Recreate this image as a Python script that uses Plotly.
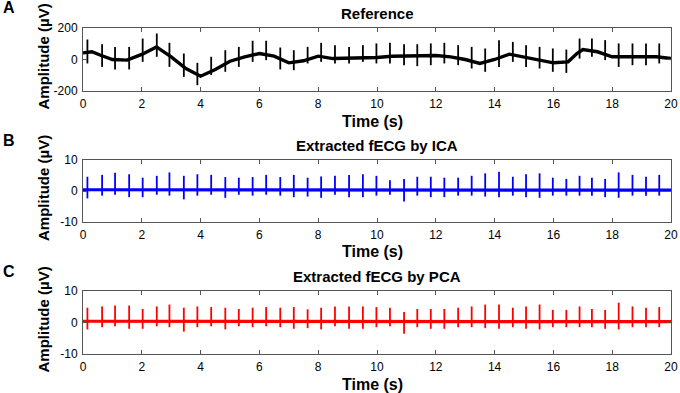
import plotly.graph_objects as go

# ---------------- data ----------------
beat_times = [0.15, 0.65, 1.09, 1.57, 2.03, 2.51, 2.94, 3.43, 3.89, 4.36, 4.84,
              5.30, 5.77, 6.23, 6.71, 7.17, 7.64, 8.10, 8.57, 9.05, 9.52, 9.98,
              10.44, 10.92, 11.37, 11.83, 12.29, 12.76, 13.22, 13.68, 14.15, 14.62,
              15.07, 15.53, 15.98, 16.44, 16.89, 17.31, 17.76, 18.22, 18.69, 19.15, 19.60]

# Panel A (reference) baseline wander
ref_base_t = [0, 0.3, 0.6, 1.0, 1.5, 2.0, 2.5, 3.0, 3.5, 4.0, 4.5, 5.0, 5.5, 6.0, 6.5,
              7.0, 7.5, 8.0, 8.5, 9.0, 9.5, 10, 10.5, 11, 11.5, 12, 12.5, 13, 13.5,
              14, 14.5, 15, 15.5, 16, 16.5, 16.8, 17, 17.5, 18, 18.5, 19, 19.5, 20]
ref_base_v = [42, 49, 27, 0, -4, 32, 80, 17, -57, -106, -63, -11, 17, 38, 21,
              -21, -8, 21, 6, 8, 8, 13, 21, 23, 21, 25, 17, 0, -25,
              0, 34, 17, 0, -21, -15, 38, 63, 49, 17, 17, 21, 17, 6]
# Panel A spike extremes
ref_top = [127, 97, 80, 80, 133, 165, 106, 38, -21, 17, 59, 80, 119, 119, 76, 59, 80,
           106, 91, 80, 91, 102,
           106, 97, 97, 102, 106, 91, 80, 70, 123, 112, 91, 80, 70, 63, 133, 133, 123,
           102, 102, 102, 102]
ref_bottom = [-25, -47, -63, -63, -15, 17, -47, -110, -163, -99, -78, -47, -15, -4, -63,
              -68, -25, -15, -25, -25, -15, -25,
              -25, -36, -42, -36, -25, -36, -57, -78, -47, -15, -47, -57, -78, -85, 6,
              17, -4, -47, -36, -36, -25]

# Panel B (ICA)
ica_base_t = [0, 5, 10, 15, 20]
ica_base_v = [0.4, 0.3, 0.3, 0.3, 0.3]
ica_top = [4.6, 5.2, 5.9, 5.4, 4.3, 4.9, 6.0, 4.9, 5.4, 5.2, 4.5, 4.3, 4.5, 5.2, 4.5,
           5.2, 4.3, 4.7, 4.9, 5.2, 5.4, 4.9,
           3.5, 3.9, 4.6, 4.6, 4.3, 4.3, 4.9, 5.7, 6.2, 4.6, 5.4, 5.7, 4.3, 3.9, 4.9,
           4.3, 3.9, 6.0, 5.2, 4.6, 5.2]
ica_trough = [-2.4, -1.5, -1.2, -2.0, -2.0, -1.2, -1.5, -2.7, -1.5, -1.2, -2.2, -1.2,
              -1.5, -1.2, -1.5, -2.0, -1.8, -2.2, -1.2, -2.0, -2.0, -1.5,
              -1.2, -3.4, -1.5, -2.0, -2.0, -1.5, -1.5, -1.8, -2.0, -1.5, -2.0, -2.2,
              -1.5, -1.5, -1.5, -1.5, -2.0, -2.2, -1.5, -1.5, -1.5]

# Panel C (PCA)
pca_base_t = [0, 5, 10, 15, 20]
pca_base_v = [0.4, 0.3, 0.3, 0.3, 0.3]
pca_top = [4.7, 5.1, 5.4, 5.4, 4.3, 5.1, 5.7, 4.7, 5.1, 4.9, 4.7, 4.3, 4.7, 4.9, 4.7,
           4.9, 4.2, 4.7, 5.1, 5.1, 5.1, 4.9,
           4.7, 3.3, 4.3, 4.3, 4.3, 4.7, 5.1, 5.7, 5.7, 4.7, 5.1, 5.7, 4.0, 4.0, 5.1,
           4.3, 4.0, 6.3, 5.1, 4.7, 4.9]
pca_trough = [-2.2, -1.5, -1.2, -2.0, -2.0, -1.2, -1.5, -2.9, -1.5, -1.2, -2.2, -1.2,
              -1.5, -1.2, -1.5, -2.0, -1.8, -2.2, -1.2, -2.0, -2.0, -1.5,
              -1.2, -3.6, -1.5, -2.0, -2.0, -1.5, -1.5, -1.8, -2.0, -1.5, -2.0, -2.2,
              -1.5, -1.5, -1.5, -1.5, -2.0, -2.2, -1.5, -1.5, -1.5]

x_ticks = [0, 2, 4, 6, 8, 10, 12, 14, 16, 18, 20]
titles = ["Reference", "Extracted fECG by ICA", "Extracted fECG by PCA"]
panel_letters = ["A", "B", "C"]
y_ranges = [[-200, 200], [-10, 10], [-10, 10]]
y_ticks = [[-200, 0, 200], [-10, 0, 10], [-10, 0, 10]]
colors = ["#000000", "#0000FF", "#FF0000"]

# ---------------- figure ----------------
W, H = 680, 393
x_dom = [83 / W, 671 / W]
panels_px = [(28, 91), (160, 222), (291, 354)]  # top, bottom pixel rows of plot areas


def seg(times, lo, hi):
    xs, ys = [], []
    for t, a, b in zip(times, lo, hi):
        xs += [t, t, None]
        ys += [a, b, None]
    return xs, ys


fig = go.Figure()
series = [
    (ref_base_t, ref_base_v, ref_bottom, ref_top, 3.4, 1.8),
    (ica_base_t, ica_base_v, ica_trough, ica_top, 3.2, 1.8),
    (pca_base_t, pca_base_v, pca_trough, pca_top, 3.2, 1.8),
]
for i, (bt, bv, lo, hi, bw, sw) in enumerate(series):
    xa = "x" if i == 0 else f"x{i+1}"
    ya = "y" if i == 0 else f"y{i+1}"
    fig.add_trace(go.Scatter(x=bt, y=bv, mode="lines", xaxis=xa, yaxis=ya,
                             line=dict(color=colors[i], width=bw), showlegend=False,
                             hoverinfo="skip"))
    sx, sy = seg(beat_times, lo, hi)
    fig.add_trace(go.Scatter(x=sx, y=sy, mode="lines", xaxis=xa, yaxis=ya,
                             line=dict(color=colors[i], width=sw), showlegend=False,
                             hoverinfo="skip"))

font_fam = "Liberation Sans, Arial, sans-serif"
axis_common = dict(showline=True, mirror="allticks", linecolor="#555555", linewidth=1,
                   ticks="inside", ticklen=4, tickcolor="#555555", showgrid=False,
                   zeroline=False, automargin=False,
                   tickfont=dict(family=font_fam, size=12, color="#000"))
layout = dict(width=W, height=H, autosize=False,
              margin=dict(l=0, r=0, t=0, b=0, pad=0, autoexpand=False),
              paper_bgcolor="white", plot_bgcolor="white", showlegend=False)
annotations = []
for i, (top, bot) in enumerate(panels_px):
    ydom = [1 - bot / H, 1 - top / H]
    xk = "xaxis" if i == 0 else f"xaxis{i+1}"
    yk = "yaxis" if i == 0 else f"yaxis{i+1}"
    ya = "y" if i == 0 else f"y{i+1}"
    xa = "x" if i == 0 else f"x{i+1}"
    layout[xk] = dict(domain=x_dom, range=[0, 20], tickvals=x_ticks,
                      ticktext=[str(v) for v in x_ticks], anchor=ya,
                      ticklabelstandoff=2, **axis_common)
    layout[yk] = dict(domain=ydom, range=y_ranges[i], tickvals=y_ticks[i],
                      ticktext=[str(v) for v in y_ticks[i]], anchor=xa,
                      ticklabelstandoff=2, **axis_common)
    cx = (x_dom[0] + x_dom[1]) / 2
    txt = dict(xref="paper", yref="paper", showarrow=False, xanchor="center",
               yanchor="middle")
    annotations.append(dict(text=f"<b>{titles[i]}</b>", x=cx, y=1 - (top - 15) / H,
                            font=dict(family=font_fam, size=15, color="#000"), **txt))
    annotations.append(dict(text="<b>Time (s)</b>", x=cx - 5 / W, y=1 - (bot + 30) / H,
                            font=dict(family=font_fam, size=16, color="#000"), **txt))
    annotations.append(dict(text="<b>Amplitude (µV)</b>", x=43 / W,
                            y=1 - ((top + bot) / 2 - 3) / H, textangle=-90,
                            font=dict(family=font_fam, size=15, color="#000"), **txt))
    annotations.append(dict(text=f"<b>{panel_letters[i]}</b>", x=9 / W,
                            y=1 - (top - 20) / H,
                            font=dict(family=font_fam, size=16, color="#000"), **txt))
layout["annotations"] = annotations
fig.update_layout(**layout)
fig.write_html("out.html", config={"responsive": False, "displayModeBar": False},
               post_script="document.body.style.margin='0';document.body.style.overflow='hidden';")
